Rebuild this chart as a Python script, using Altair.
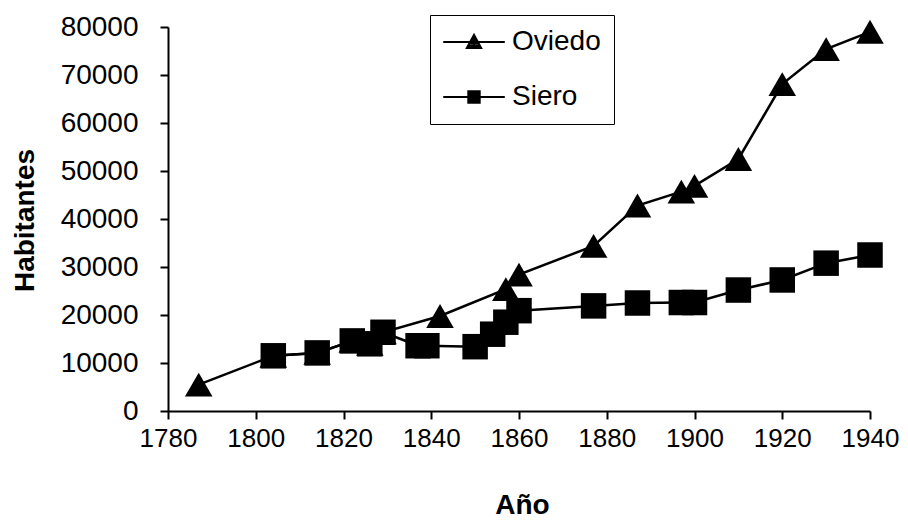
import altair as alt
import pandas as pd

oviedo_years = [1787, 1804, 1814, 1822, 1826, 1829, 1842, 1857, 1860, 1877, 1887, 1897, 1900, 1910, 1920, 1930, 1940]
oviedo_pop = [5500, 11500, 12100, 14600, 14000, 16400, 19800, 25400, 28400, 34400, 42800, 45700, 46900, 52500, 68100, 75400, 79000]
siero_years = [1804, 1814, 1822, 1826, 1829, 1837, 1839, 1850, 1854, 1857, 1860, 1877, 1887, 1897, 1900, 1910, 1920, 1930, 1940]
siero_pop = [11500, 12100, 14600, 14000, 16400, 13600, 13600, 13400, 16000, 18500, 20900, 21900, 22500, 22600, 22600, 25200, 27300, 30800, 32500]

series_names = ["Oviedo", "Siero"]
x_ticks = [1780, 1800, 1820, 1840, 1860, 1880, 1900, 1920, 1940]
y_ticks = [0, 10000, 20000, 30000, 40000, 50000, 60000, 70000, 80000]

df = pd.concat([
    pd.DataFrame({"year": oviedo_years, "pop": oviedo_pop, "serie": "Oviedo"}),
    pd.DataFrame({"year": siero_years, "pop": siero_pop, "serie": "Siero"}),
], ignore_index=True)

FONT = "Liberation Sans"

x_enc = alt.X("year:Q",
              scale=alt.Scale(domain=[1780, 1940], nice=False, zero=False),
              axis=alt.Axis(values=x_ticks, format="d", title="Año",
                            titleX=354, titleY=94, titleBaseline="middle",
                            titleAlign="center", labelPadding=6, labelFontSize=26,
                            labelFlush=False, labelOverlap=False))
y_enc = alt.Y("pop:Q",
              scale=alt.Scale(domain=[0, 80000], nice=False),
              axis=alt.Axis(values=y_ticks, format="d", title="Habitantes",
                            titleX=-143, titleY=193, titleAngle=270,
                            titleBaseline="middle", titleAlign="center",
                            labelPadding=22, labelOverlap=False))

lines = alt.Chart(df).mark_line(color="black", strokeWidth=2.5).encode(
    x=x_enc, y=y_enc, detail="serie:N"
)

points = alt.Chart(df).mark_point(filled=True, color="black", opacity=1).encode(
    x=x_enc, y=y_enc,
    shape=alt.Shape("serie:N", scale=alt.Scale(domain=series_names, range=["triangle-up", "square"]), legend=None),
    size=alt.Size("serie:N", scale=alt.Scale(domain=series_names, range=[760, 650]), legend=None),
)

# legend symbols: a line through a (stroke-filled) marker
tri_path = ("M-4.4,0H4.4M0,-1L1,0.85L-1,0.85Z"
            "M-0.75,0.6H0.75M-0.55,0.25H0.55M-0.3,-0.15H0.3M0,-0.6V0.8")
sq_path = ("M-4.4,0H4.4M-0.8,-0.8H0.8V0.8H-0.8Z"
           "M-0.8,-0.5H0.8M-0.8,-0.2H0.8M-0.8,0.2H0.8M-0.8,0.5H0.8")

legend_layer = alt.Chart(df).transform_filter(alt.datum.year < 0).mark_point(
    filled=False, color="black", strokeWidth=2.2, opacity=1
).encode(
    x=x_enc, y=y_enc,
    shape=alt.Shape("serie:N",
                    scale=alt.Scale(domain=series_names, range=[tri_path, sq_path]),
                    legend=alt.Legend(title=None, orient="none", legendX=262, legendY=-12,
                                      strokeColor="black", fillColor="white", padding=13,
                                      symbolSize=196, symbolOffset=17, labelOffset=24,
                                      rowPadding=27, labelFontSize=28, labelFont=FONT,
                                      labelColor="black",
                                      symbolStrokeColor="black", symbolStrokeWidth=2.2,
                                      symbolOpacity=1)),
)

chart = alt.layer(lines, points, legend_layer).resolve_scale(shape="independent").properties(
    width=702, height=384,
    autosize=alt.AutoSizeParams(type="none"),
    padding={"left": 160, "top": 19, "right": 30, "bottom": 107},
).configure_view(stroke=None).configure_axis(
    grid=False, domainColor="black", domainWidth=2, tickColor="black", tickWidth=2,
    tickSize=8, labelFont=FONT, labelFontSize=28, labelColor="black",
    titleFont=FONT, titleFontSize=28, titleFontWeight="bold", titleColor="black",
)

chart.save("out.html", embed_options={"renderer": "svg", "actions": False})
